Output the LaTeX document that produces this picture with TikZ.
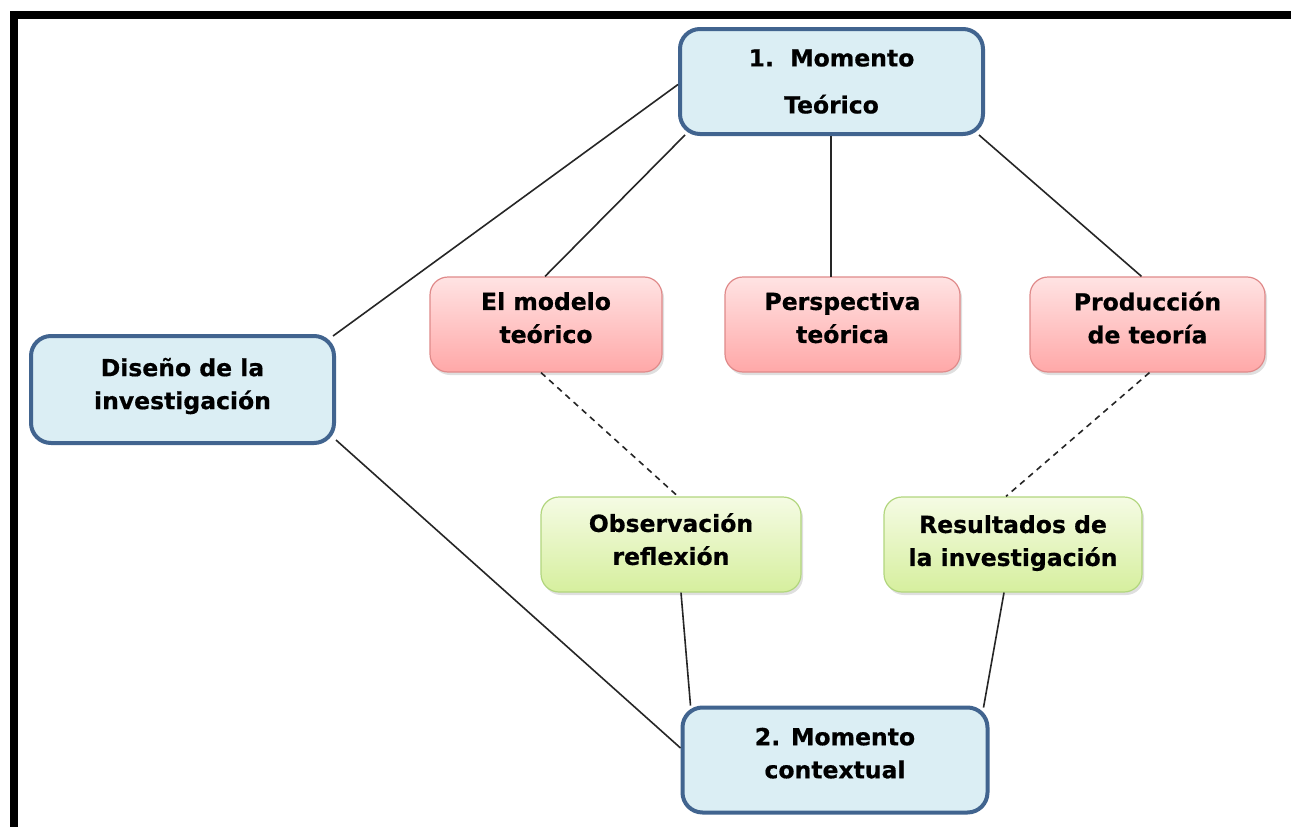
\documentclass[tikz,border=0pt]{standalone}
\usepackage{fontspec}
\setmainfont{DejaVu Sans}[BoldFeatures={FakeBold=0.6}]
\usetikzlibrary{calc,shadows}
\definecolor{bluefill}{HTML}{DBEEF4}
\definecolor{blueline}{HTML}{41648F}
\definecolor{redtop}{HTML}{FFE3E3}
\definecolor{redbot}{HTML}{FFA8A8}
\definecolor{redline}{HTML}{E08A8A}
\definecolor{greentop}{HTML}{F5FBE4}
\definecolor{greenbot}{HTML}{D6EF9E}
\definecolor{greenline}{HTML}{B2D67E}
\tikzset{
  txt/.style={font=\fontsize{23.5}{33}\selectfont\bfseries, align=center, text=black},
  lift/.style={text depth=#1},
  mainbox/.style={txt, draw=blueline, line width=4pt, fill=bluefill, rounded corners=20pt, inner sep=0pt},
  redbox/.style={txt, draw=redline, line width=1.2pt, top color=redtop, bottom color=redbot, rounded corners=18pt, inner sep=0pt, minimum height=95pt,
     drop shadow={opacity=0.25, shadow xshift=2pt, shadow yshift=-3pt}},
  greenbox/.style={txt, draw=greenline, line width=1.2pt, top color=greentop, bottom color=greenbot, rounded corners=18pt, inner sep=0pt, minimum height=95pt,
     drop shadow={opacity=0.25, shadow xshift=2pt, shadow yshift=-3pt}},
  link/.style={draw=black!85, line width=1.6pt},
  dlink/.style={link, dash pattern=on 6pt off 5pt}
}
\begin{document}
\begin{tikzpicture}[x=1pt,y=-1pt]
\useasboundingbox (0,0) rectangle (1291,827);
\fill[white] (0,0) rectangle (1291,827);
% frame
\fill[black] (10,11) rectangle (1291,19);
\fill[black] (10,11) rectangle (18,827);

% nodes
\node[mainbox, minimum width=303pt, minimum height=105pt] (top) at (831.5,81.5) {1.\ \ Momento\\[14pt]Teórico};
\node[mainbox, lift=12pt, minimum width=303pt, minimum height=107pt] (dis) at (182.5,389.5) {Diseño de la\\investigación};
\node[mainbox, lift=14pt, minimum width=305pt, minimum height=105pt] (ctx) at (835,760) {2. Momento\\contextual};

\node[redbox, lift=14pt, minimum width=232pt] (mod) at (546,324.5) {El modelo\\teórico};
\node[redbox, lift=14pt, minimum width=235pt] (per) at (842.5,324.5) {Perspectiva\\teórica};
\node[redbox, lift=14pt, minimum width=235pt] (pro) at (1147.5,324.5) {Producción\\de teoría};

\node[greenbox, lift=11pt, minimum width=260pt] (obs) at (671,544.5) {Observación\\reflexión};
\node[greenbox, lift=8pt, minimum width=258pt] (res) at (1013,544.5) {Resultados de\\la investigación};

% connectors
\draw[link] ($(top.west)+(0,3)$) -- ($(dis.north east)+(-3,2)$);
\draw[link] ($(top.south west)+(7,-1)$) -- ($(mod.north)+(-1,0)$);
\draw[link] (top.south -| 831,0) -- (831,277);
\draw[link] ($(top.south east)+(-6,-1)$) -- ($(pro.north)+(-6,0)$);
\draw[link] ($(dis.south east)+(0,-5)$) -- ($(ctx.west)+(0,-12)$);
\draw[dlink] ($(mod.south)+(-5,0)$) -- ($(obs.north)+(7,0)$);
\draw[dlink] ($(pro.south)+(2,0)$) -- ($(res.north)+(-7,0)$);
\draw[link] ($(obs.south)+(10,0)$) -- ($(ctx.north west)+(10,0)$);
\draw[link] ($(res.south)+(-9,0)$) -- ($(ctx.north east)+(-6,2)$);
\end{tikzpicture}
\end{document}
